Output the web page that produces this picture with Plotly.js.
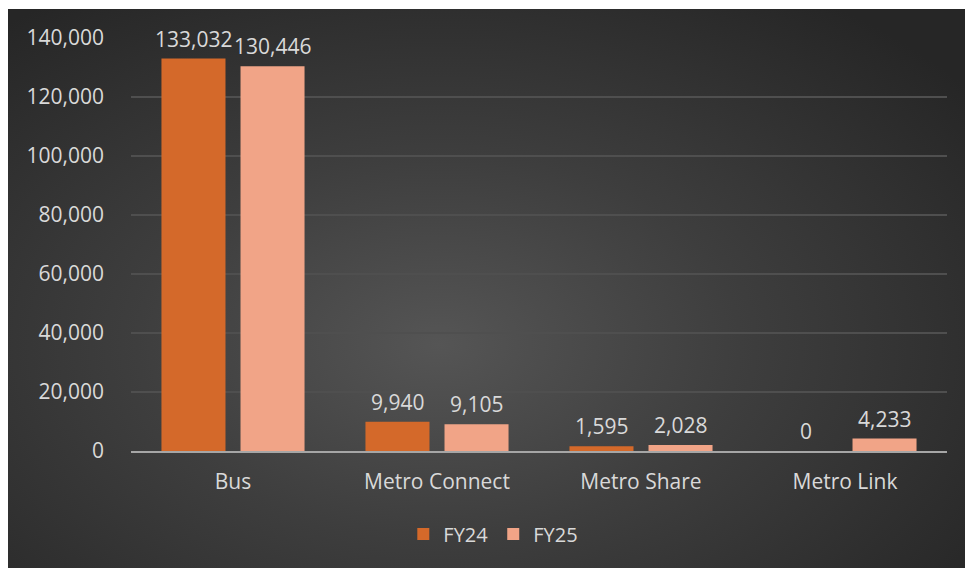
<!DOCTYPE html>
<html>
<head>
<meta charset="utf-8">
<script src="https://cdn.plot.ly/plotly-3.0.1.min.js"></script>
<style>
  html, body { margin: 0; padding: 0; background: #ffffff; }
  #bg { position: absolute; left: 8px; top: 9px; width: 957px; height: 559px;
        background: radial-gradient(ellipse 70% 75% at 45% 60%, #555555 0%, #3e3e3e 45%, #262626 100%); }
  #chart { position: absolute; left: 0; top: 0; width: 965px; height: 570px; }
</style>
</head>
<body>
<div id="bg"></div>
<div id="chart"></div>
<script>
const categories = ["Bus", "Metro Connect", "Metro Share", "Metro Link"];
const seriesNames = ["FY24", "FY25"];
const fy24 = [133032, 9940, 1595, 0];
const fy25 = [130446, 9105, 2028, 4233];
const yTicks = [0, 20000, 40000, 60000, 80000, 100000, 120000, 140000];

const fontFam = "'Open Sans', 'Noto Sans', sans-serif";
const txtColor = "#d9d9d9";
const fs = 21;

function fmt(v) { return v.toLocaleString("en-US"); }

const traces = [
  {
    type: "bar", name: seriesNames[0], x: categories, y: fy24,
    marker: { color: "#d4692a", line: { width: 0 } },
    hoverinfo: "x+y"
  },
  {
    type: "bar", name: seriesNames[1], x: categories, y: fy25,
    marker: { color: "#f1a487", line: { width: 0 } },
    hoverinfo: "x+y"
  }
];

// data labels above each bar, offset to each bar's group slot
const annotations = [];
[[fy24, -39.5], [fy25, 39.5]].forEach(([vals, dx]) => {
  vals.forEach((v, i) => {
    annotations.push({
      x: categories[i], y: v, xref: "x", yref: "y",
      text: fmt(v), showarrow: false, xshift: dx, yshift: 4,
      yanchor: "bottom", xanchor: "center",
      font: { family: fontFam, size: fs, color: txtColor }
    });
  });
});

const layout = {
  width: 965, height: 570,
  paper_bgcolor: "rgba(0,0,0,0)",
  plot_bgcolor: "rgba(0,0,0,0)",
  margin: { l: 131, r: 18, t: 38, b: 119 },
  barmode: "group",
  bargap: 0.225,
  bargroupgap: 0.19,
  font: { family: fontFam, size: fs, color: txtColor },
  showlegend: true,
  annotations: annotations,
  legend: {
    orientation: "h", x: 0.444, xanchor: "center", y: -0.201, yanchor: "middle",
    font: { family: fontFam, size: 20, color: txtColor },
    bgcolor: "rgba(0,0,0,0)", itemwidth: 30, traceorder: "normal"
  },
  xaxis: {
    type: "category", showgrid: false, zeroline: false,
    showline: true, linecolor: "#a6a6a6", linewidth: 2,
    ticks: "", ticklabelstandoff: 11,
    tickfont: { family: fontFam, size: fs, color: txtColor }
  },
  yaxis: {
    range: [0, 140000], tickvals: yTicks, ticktext: yTicks.map(fmt),
    showgrid: true, gridcolor: "#4f4f4f", gridwidth: 1.5,
    zeroline: false, showline: false, ticks: "",
    ticklabelstandoff: 26,
    tickfont: { family: fontFam, size: fs, color: txtColor }
  }
};

Plotly.newPlot("chart", traces, layout, { displayModeBar: false, staticPlot: true });
</script>
</body>
</html>
